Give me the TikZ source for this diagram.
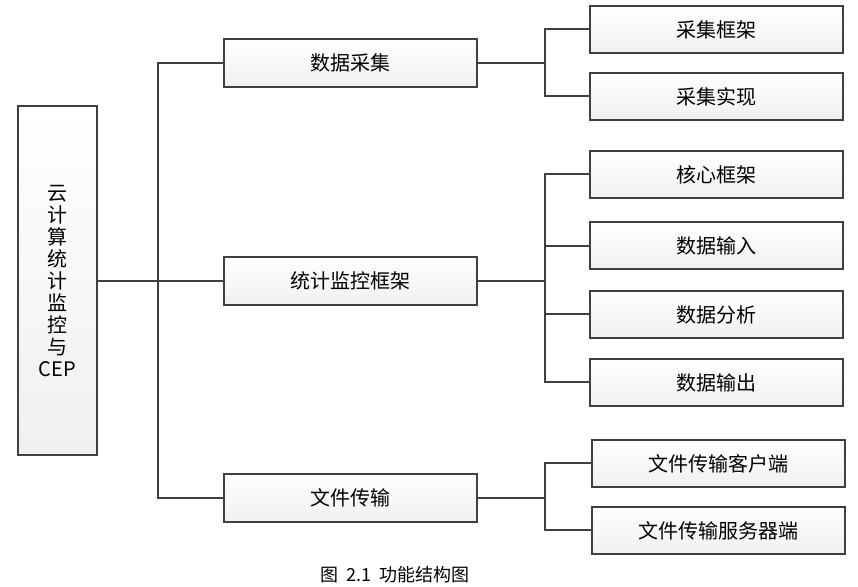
\documentclass[tikz,border=0pt]{standalone}
\usepackage{fontspec}
\newfontfamily\cjk{Noto Sans CJK SC}
\usetikzlibrary{positioning}

\tikzset{
  box/.style={draw=black!75, line width=1pt, top color=white, bottom color=black!6,
    minimum width=126.5pt, minimum height=24pt, inner sep=0pt, font=\cjk\fontsize{10}{12}\selectfont},
  link/.style={draw=black!75, line width=1pt}
}

\begin{document}
\begin{tikzpicture}[x=0.5pt, y=-0.5pt]
        \useasboundingbox (0,0) rectangle (858,587);
        % root
        \node [box, minimum width=39.5pt, minimum height=174.5pt, align=center] (root) at (57.5,281)
              {云\\[-1pt]计\\[-1pt]算\\[-1pt]统\\[-1pt]计\\[-1pt]监\\[-1pt]控\\[-1pt]与\\[-1pt]CEP};
        % middle level
        \node [box] (caiji)  at (350.5,63)  {数据采集};
        \node [box] (tongji) at (350.5,281) {统计监控框架};
        \node [box] (wenjian) at (350.5,498) {文件传输};
        % right level
        \node [box, minimum height=23.5pt] (kuangjia) at (716,29.5)  {采集框架};
        \node [box, minimum height=23.5pt] (shixian)  at (716,96.5)  {采集实现};
        \node [box, minimum height=23.5pt] (hexin)    at (716,174.5) {核心框架};
        \node [box, minimum height=23.5pt] (shuru)    at (716,246)   {数据输入};
        \node [box, minimum height=23.5pt] (fenxi)    at (716,314.5) {数据分析};
        \node [box, minimum height=23.5pt] (shuchu)   at (716,382.5) {数据输出};
        \node [box, minimum height=23.5pt] (kehu)     at (718.5,463.5) {文件传输客户端};
        \node [box, minimum height=23.5pt] (fuwu)     at (718.5,530.5) {文件传输服务器端};
        % connectors
        \coordinate (t0) at (158,281);
        \draw [link] (root.east) -- (t0);
        \draw [link] (caiji.west) -| (t0) |- (wenjian.west);
        \draw [link] (t0) -- (tongji.west);
        \coordinate (t1) at (545,63);
        \draw [link] (caiji.east) -- (t1);
        \draw [link] (kuangjia.west) -| (t1) |- (shixian.west);
        \coordinate (t2) at (545,281);
        \draw [link] (tongji.east) -- (t2);
        \draw [link] (hexin.west) -| (t2) |- (shuchu.west);
        \draw [link] (shuru.west) -| (t2);
        \draw [link] (fenxi.west) -| (t2);
        \coordinate (t3) at (545,498);
        \draw [link] (wenjian.east) -- (t3);
        \draw [link] (kehu.west) -| (t3) |- (fuwu.west);
        % caption
        \node [font=\cjk\fontsize{9}{11}\selectfont] (caption) at (395,575) {图\ \ 2.1\ \ 功能结构图};
\end{tikzpicture}
\end{document}
